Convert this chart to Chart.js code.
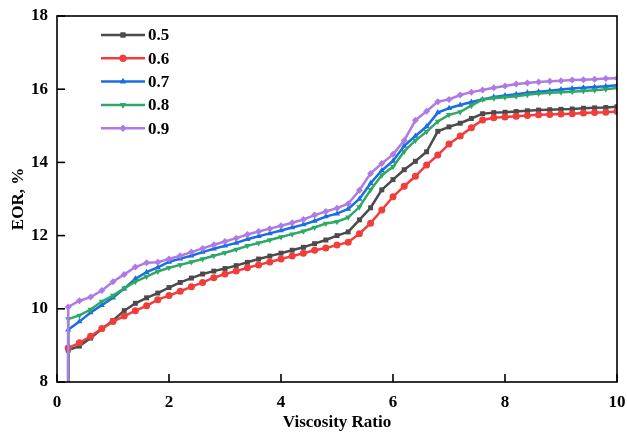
<!DOCTYPE html>
<html>
<head>
<meta charset="utf-8">
<script src="https://cdn.jsdelivr.net/npm/chart.js@4"></script>
<style>
  html, body { margin: 0; padding: 0; background: #fff; }
  #wrap { width: 627px; height: 433px; }
</style>
</head>
<body>
<div id="wrap"><canvas id="chart"></canvas></div>
<script>
// x positions (first point is the drop to the axis at start)
const viscosityRatio = [0.2, 0.2, 0.4, 0.6, 0.8, 1.0, 1.2, 1.4, 1.6, 1.8, 2.0,
  2.2, 2.4, 2.6, 2.8, 3.0, 3.2, 3.4, 3.6, 3.8, 4.0,
  4.2, 4.4, 4.6, 4.8, 5.0, 5.2, 5.4, 5.6, 5.8, 6.0,
  6.2, 6.4, 6.6, 6.8, 7.0, 7.2, 7.4, 7.6, 7.8, 8.0,
  8.2, 8.4, 8.6, 8.8, 9.0, 9.2, 9.4, 9.6, 9.8, 10.0];

const eor05 = [8, 8.87, 8.98, 9.2, 9.45, 9.68, 9.95, 10.15, 10.3, 10.43, 10.58,
  10.72, 10.84, 10.95, 11.03, 11.1, 11.18, 11.27, 11.36, 11.44, 11.52,
  11.6, 11.68, 11.78, 11.88, 12.0, 12.1, 12.43, 12.76, 13.25, 13.53,
  13.8, 14.03, 14.29, 14.85, 14.97, 15.07, 15.2, 15.33, 15.36, 15.37,
  15.39, 15.41, 15.43, 15.44, 15.45, 15.46, 15.48, 15.49, 15.5, 15.52];

const eor06 = [8, 8.93, 9.07, 9.25, 9.46, 9.65, 9.8, 9.95, 10.08, 10.25, 10.36,
  10.48, 10.6, 10.72, 10.85, 10.95, 11.03, 11.12, 11.2, 11.28, 11.36,
  11.44, 11.52, 11.6, 11.66, 11.74, 11.82, 12.05, 12.34, 12.7, 13.06,
  13.35, 13.62, 13.93, 14.2, 14.5, 14.72, 14.95, 15.16, 15.22, 15.24,
  15.26, 15.28, 15.3, 15.31, 15.32, 15.33, 15.35, 15.36, 15.37, 15.39];

const eor07 = [8, 9.43, 9.65, 9.9, 10.1, 10.3, 10.55, 10.82, 11.0, 11.13, 11.28,
  11.37, 11.45, 11.55, 11.64, 11.72, 11.8, 11.9, 11.98, 12.06, 12.14,
  12.22, 12.3, 12.4, 12.52, 12.6, 12.73, 13.0, 13.43, 13.78, 14.04,
  14.45, 14.72, 14.98, 15.36, 15.48, 15.57, 15.65, 15.72, 15.79, 15.83,
  15.86, 15.9, 15.93, 15.96, 15.99, 16.02, 16.04, 16.06, 16.08, 16.11];

const eor08 = [8, 9.72, 9.82, 9.98, 10.2, 10.36, 10.56, 10.74, 10.88, 11.02, 11.12,
  11.2, 11.28, 11.36, 11.45, 11.53, 11.62, 11.72, 11.8, 11.88, 11.96,
  12.04, 12.12, 12.22, 12.33, 12.38, 12.5, 12.78, 13.25, 13.65, 13.88,
  14.3, 14.6, 14.84, 15.12, 15.3, 15.38, 15.55, 15.72, 15.75, 15.78,
  15.81, 15.85, 15.88, 15.9, 15.92, 15.93, 15.95, 15.97, 16.0, 16.03];

const eor09 = [8, 10.05, 10.22, 10.32, 10.5, 10.74, 10.94, 11.14, 11.26, 11.27, 11.36,
  11.45, 11.55, 11.65, 11.75, 11.84, 11.93, 12.03, 12.11, 12.19, 12.27,
  12.35, 12.44, 12.56, 12.66, 12.75, 12.87, 13.24, 13.7, 13.97, 14.22,
  14.6, 15.15, 15.4, 15.66, 15.72, 15.84, 15.92, 15.98, 16.04, 16.09,
  16.14, 16.17, 16.2, 16.22, 16.23, 16.25, 16.26, 16.27, 16.29, 16.3];

const seriesLabels = ['0.5', '0.6', '0.7', '0.8', '0.9'];
const xTicks = [0, 2, 4, 6, 8, 10];
const yTicks = [8, 10, 12, 14, 16, 18];

const FONT = '"Liberation Serif", "Times New Roman", serif';

const styles = [
  { color: '#4b4b4b', point: 'rect', rot: 0 },
  { color: '#f23d3d', point: 'circle', rot: 0 },
  { color: '#1b6de4', point: 'triangle', rot: 0 },
  { color: '#2ea866', point: 'triangle', rot: 180 },
  { color: '#b07ae4', point: 'rectRot', rot: 0 },
];

const allSeries = [eor05, eor06, eor07, eor08, eor09];

const datasets = allSeries.map((vals, i) => ({
  label: seriesLabels[i],
  data: vals.map((v, j) => ({ x: viscosityRatio[j], y: v })),
  borderColor: styles[i].color,
  backgroundColor: styles[i].color,
  borderWidth: 2.5,
  pointStyle: styles[i].point,
  pointRotation: styles[i].rot,
  pointRadius: vals.map((v, j) => (j === 0 ? 0 : 3.5)),
  pointBorderWidth: 0,
  tension: 0,
  order: 5 - i,
}));

// frame, inward ticks and legend drawn on top
const framePlugin = {
  id: 'frame',
  afterDraw(chart) {
    const { ctx, chartArea: a, scales } = chart;
    ctx.save();
    ctx.strokeStyle = '#000';
    ctx.lineWidth = 1.6;
    ctx.strokeRect(a.left, a.top, a.right - a.left, a.bottom - a.top);
    yTicks.forEach(t => {
      const y = scales.y.getPixelForValue(t);
      ctx.beginPath();
      ctx.moveTo(a.left, y);
      ctx.lineTo(a.left + 8, y);
      ctx.stroke();
    });
    xTicks.forEach(t => {
      const x = scales.x.getPixelForValue(t);
      ctx.beginPath();
      ctx.moveTo(x, a.bottom);
      ctx.lineTo(x, a.bottom - 8);
      ctx.stroke();
    });

    // legend
    ctx.font = 'bold 17px ' + FONT;
    ctx.textBaseline = 'middle';
    ctx.textAlign = 'left';
    chart.data.datasets.forEach((ds, i) => {
      const y = 35 + i * 23.3;
      ctx.strokeStyle = ds.borderColor;
      ctx.lineWidth = 2.5;
      ctx.beginPath();
      ctx.moveTo(101, y);
      ctx.lineTo(145, y);
      ctx.stroke();
      ctx.fillStyle = ds.borderColor;
      Chart.helpers.drawPoint(ctx, {
        pointStyle: ds.pointStyle,
        rotation: ds.pointRotation,
        radius: 3.5,
        borderWidth: 0,
      }, 123, y);
      ctx.fill();
      ctx.fillStyle = '#000';
      ctx.fillText(ds.label, 148, y + 1);
    });
    ctx.restore();
  }
};

new Chart(document.getElementById('chart'), {
  type: 'line',
  data: { datasets },
  options: {
    responsive: true,
    maintainAspectRatio: false,
    animation: false,
    layout: { padding: { top: 16, right: 10, left: 0, bottom: 0 } },
    plugins: { legend: { display: false }, tooltip: { enabled: false } },
    scales: {
      x: {
        type: 'linear',
        min: 0,
        max: 10,
        afterBuildTicks: s => { s.ticks = xTicks.map(v => ({ value: v })); },
        afterFit: s => { s.height = 51; s.paddingLeft = 0; s.paddingRight = 0; },
        grid: { display: false, drawTicks: false },
        border: { display: false },
        ticks: {
          color: '#000',
          padding: 10,
          maxRotation: 0,
          font: { family: FONT, size: 17, weight: 'bold' },
        },
        title: {
          display: true,
          text: 'Viscosity Ratio',
          color: '#000',
          padding: { top: 0, bottom: 0 },
          font: { family: FONT, size: 17, weight: 'bold' },
        },
      },
      y: {
        min: 8,
        max: 18,
        afterBuildTicks: s => { s.ticks = yTicks.map(v => ({ value: v })); },
        afterFit: s => { s.width = 57; s.paddingTop = 0; s.paddingBottom = 0; },
        grid: { display: false, drawTicks: false },
        border: { display: false },
        ticks: {
          color: '#000',
          padding: 9,
          font: { family: FONT, size: 17, weight: 'bold' },
        },
        title: {
          display: true,
          text: 'EOR, %',
          color: '#000',
          padding: { top: 8, bottom: 4 },
          font: { family: FONT, size: 17, weight: 'bold' },
        },
      },
    },
  },
  plugins: [framePlugin],
});
</script>
</body>
</html>
